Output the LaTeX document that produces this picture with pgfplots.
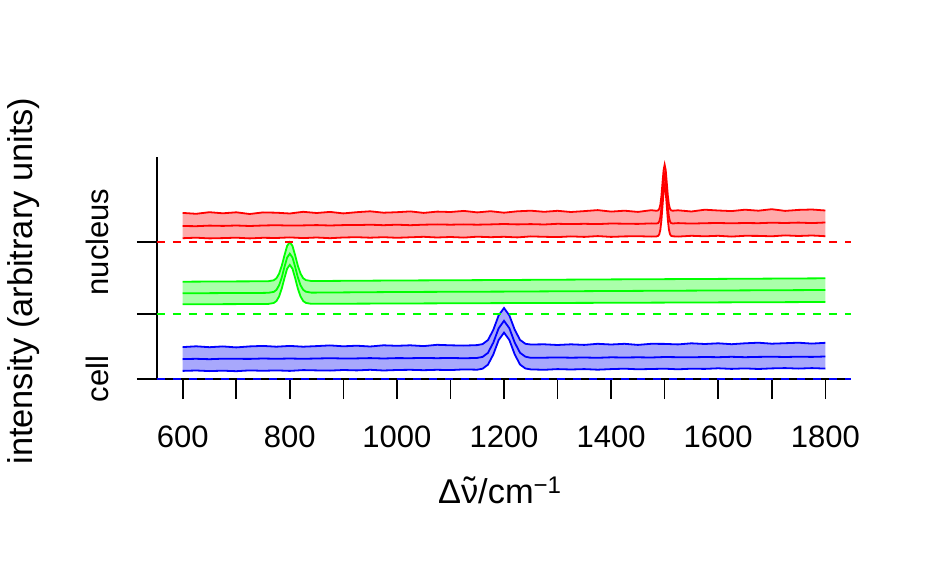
\documentclass[border=0pt]{standalone}
\usepackage{fontspec}
\setmainfont{Liberation Sans}
\usepackage{pgfplots}
\pgfplotsset{compat=1.18}
\usepackage{pgfplotstable}
\usepgfplotslibrary{fillbetween}
\definecolor{cR}{RGB}{255,0,0}
\definecolor{cG}{RGB}{0,255,0}
\definecolor{cB}{RGB}{0,0,255}
\definecolor{fR}{RGB}{255,170,170}
\definecolor{fG}{RGB}{170,255,170}
\definecolor{fB}{RGB}{168,168,252}
\newcommand{\nutilde}{\ooalign{ν\cr\hidewidth\raisebox{0.05em}{˜}\hidewidth\cr}}

% cell (blue), offset 0
\pgfplotstableread{
x lo mid hi
600 8.1 19.9 31.9
625 8.5 20.2 32.7
650 7.9 19.8 31.8
675 8.3 20.3 32.6
700 7.8 20.2 31.6
725 8.6 20.1 32.6
750 8.2 20.5 33.1
775 8.6 20.2 32.3
800 8.1 20.5 33.1
825 8.9 20.2 32.3
850 8.6 20.5 32.9
875 8.4 20.8 33.6
900 9.0 20.5 32.7
925 8.6 20.6 33.3
950 9.2 20.9 32.5
975 8.5 20.5 33.7
1000 9.0 20.9 33.2
1025 9.2 20.8 33.7
1050 8.8 21.1 32.9
1075 9.2 20.8 34.2
1100 8.9 21.1 33.7
1125 9.6 20.7 33.4
1150 9.3 21.1 33.9
1160 10.3 22.1 34.9
1170 14.3 26.1 38.9
1180 24.5 36.3 49.1
1190 38.9 50.7 63.6
1200 46.4 58.2 71.0
1210 39.0 50.8 63.6
1220 24.6 36.4 49.3
1230 14.4 26.2 39.1
1240 10.5 22.3 35.2
1250 9.6 21.2 34.5
1275 9.2 21.3 34.7
1300 9.9 21.6 34.0
1325 9.5 21.3 34.7
1350 9.9 21.5 34.1
1375 9.3 21.2 35.2
1400 9.9 21.7 34.5
1425 10.3 21.5 35.2
1450 9.7 21.7 34.1
1475 10.0 21.5 35.2
1500 10.3 22.0 35.1
1525 9.7 21.8 34.6
1550 10.3 21.7 35.7
1575 10.1 22.0 35.0
1600 10.7 21.8 35.7
1625 10.1 22.2 34.8
1650 10.6 21.8 35.7
1675 10.0 22.1 36.3
1700 10.6 22.3 35.3
1725 10.9 22.0 35.8
1750 10.4 22.3 36.3
1775 10.9 22.1 35.4
1800 10.4 22.5 36.2
}\cellT

% green group, offset 65
\pgfplotstableread{
x lo mid hi
600 74.7 85.7 97.3
700 74.9 86.0 97.6
750 75.0 86.1 97.7
760 75.1 86.2 97.8
770 76.0 87.1 98.7
775 77.9 89.1 100.7
780 82.5 93.7 105.3
785 90.5 101.6 113.2
790 100.9 112.0 123.6
795 110.3 121.4 133.1
800 114.1 125.3 136.9
805 110.3 121.5 133.1
810 100.9 112.1 123.7
815 90.5 101.7 113.3
820 82.6 93.8 105.4
825 78.0 89.2 100.8
830 76.1 87.3 98.9
840 75.2 86.4 98.0
850 75.2 86.4 98.0
1000 75.5 87.0 98.5
1200 75.9 87.4 99.0
1400 76.2 88.0 99.6
1600 76.6 88.5 100.1
1800 77.0 89.0 100.7
}\greenT

% nucleus (red), offset 137
\pgfplotstableread{
x lo mid hi
600 140.8 153.0 166.1
625 141.3 152.8 165.2
650 140.6 153.4 166.8
675 140.9 153.1 165.7
700 141.3 153.5 166.7
725 140.6 153.0 165.0
750 141.2 153.5 166.6
775 141.0 153.8 166.3
800 141.6 153.4 165.5
825 140.9 153.6 167.2
850 141.5 153.9 166.0
875 140.8 153.5 167.1
900 141.5 153.9 165.6
925 141.8 153.9 166.8
950 141.3 154.3 167.7
975 141.8 153.8 166.3
1000 141.2 154.3 166.8
1025 141.7 153.8 167.6
1050 142.2 154.3 166.1
1075 141.5 154.6 167.4
1100 142.0 154.3 167.0
1125 141.4 154.6 168.1
1150 142.3 154.3 166.6
1175 141.8 154.6 167.8
1200 142.2 155.0 166.3
1225 141.6 154.6 167.7
1250 142.6 154.9 168.3
1275 142.2 154.5 167.2
1300 141.9 155.2 168.2
1325 142.6 154.9 167.0
1350 142.1 155.2 167.9
1375 142.9 154.9 168.9
1400 142.1 155.5 167.4
1425 142.6 155.3 168.3
1450 142.8 155.1 167.1
1475 142.4 155.6 168.8
1485 142.6 155.5 168.2
1488 143.2 156.0 168.7
1490 144.8 157.6 170.2
1492 149.4 162.0 174.4
1494 158.9 171.1 183.2
1496 173.0 184.6 196.1
1498 186.7 197.8 208.8
1500 192.6 203.5 214.2
1502 186.7 197.8 208.8
1504 173.0 184.6 196.1
1506 158.9 171.1 183.2
1508 149.4 162.0 174.4
1510 144.8 157.6 170.2
1512 143.2 156.0 168.7
1515 142.7 155.5 168.3
1525 142.4 155.9 168.7
1550 143.2 155.4 167.5
1575 142.7 155.8 169.3
1600 143.2 156.0 168.5
1625 142.4 155.7 167.9
1650 143.2 156.0 169.3
1675 143.1 155.8 168.3
1700 142.7 156.3 169.8
1725 143.6 156.0 168.1
1750 143.0 156.4 169.1
1775 143.5 155.9 169.5
1800 142.8 156.5 168.5
}\nucT

\begin{document}
\begin{tikzpicture}[font=\fontsize{31pt}{37pt}\selectfont]
\begin{axis}[
  name=ax,
  scale only axis,
  width=694pt, height=222pt,
  xmin=552, xmax=1848, ymin=0, ymax=222,
  enlargelimits=false,
  clip=false,
  axis lines=left,
  axis line style={-, line width=1.6pt, black},
  tick align=outside,
  major tick length=20pt,
  tick style={black, line width=1.6pt},
  xtick={600,700,...,1800},
  xticklabels={600,,800,,1000,,1200,,1400,,1600,,1800},
  ytick={0,65,137},
  yticklabels={cell,,nucleus},
  /pgf/number format/assume math mode=true,
  xticklabel style={anchor=base},
  xticklabel shift=48pt,
  yticklabel style={rotate=90, anchor=base},
  yticklabel shift=29pt,
  xlabel={Δ\nutilde/cm\textsuperscript{−1}},
  ylabel={intensity (arbitrary units)},
  every axis x label/.style={at={(axis description cs:0.494,-0.5586)}, anchor=base, font=\fontsize{34.4pt}{40pt}\selectfont},
  every axis y label/.style={at={(axis description cs:-0.1787,0.441)}, rotate=90, anchor=base, font=\fontsize{34.4pt}{40pt}\selectfont},
]
% blue
\addplot[name path=bh, draw=none] table[x=x,y=hi]{\cellT};
\addplot[name path=bl, draw=none] table[x=x,y=lo]{\cellT};
\addplot[fill=fB, draw=none] fill between[of=bh and bl];
\addplot[cB, line width=1.8pt] table[x=x,y=hi]{\cellT};
\addplot[cB, line width=1.8pt] table[x=x,y=mid]{\cellT};
\addplot[cB, line width=1.8pt] table[x=x,y=lo]{\cellT};
% green
\addplot[name path=gh, draw=none] table[x=x,y=hi]{\greenT};
\addplot[name path=gl, draw=none] table[x=x,y=lo]{\greenT};
\addplot[fill=fG, draw=none] fill between[of=gh and gl];
\addplot[cG, line width=1.8pt] table[x=x,y=hi]{\greenT};
\addplot[cG, line width=1.8pt] table[x=x,y=mid]{\greenT};
\addplot[cG, line width=1.8pt] table[x=x,y=lo]{\greenT};
% red
\addplot[name path=rh, draw=none] table[x=x,y=hi]{\nucT};
\addplot[name path=rl, draw=none] table[x=x,y=lo]{\nucT};
\addplot[fill=fR, draw=none] fill between[of=rh and rl];
\addplot[cR, line width=1.8pt] table[x=x,y=hi]{\nucT};
\addplot[cR, line width=1.8pt] table[x=x,y=mid]{\nucT};
\addplot[cR, line width=1.8pt] table[x=x,y=lo]{\nucT};
% offset lines
\addplot[cB, line width=1.8pt, dash pattern=on 8pt off 8pt] coordinates {(552,0) (1848,0)};
\addplot[cG, line width=1.8pt, dash pattern=on 8pt off 8pt] coordinates {(552,65) (1848,65)};
\addplot[cR, line width=1.8pt, dash pattern=on 8pt off 8pt] coordinates {(552,137) (1848,137)};
\end{axis}
\pgfresetboundingbox
\path ([shift={(-157pt,-197pt)}]ax.south west) rectangle ++(932pt,576pt);
\end{tikzpicture}
\end{document}
